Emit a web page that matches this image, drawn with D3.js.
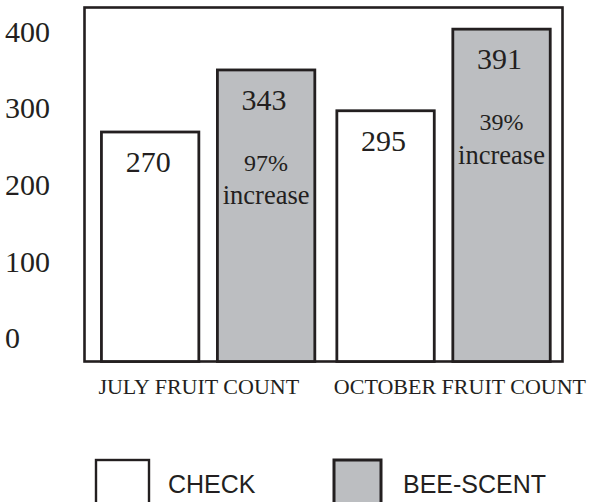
<!DOCTYPE html>
<html>
<head>
<meta charset="utf-8">
<script src="https://cdn.jsdelivr.net/npm/d3@7"></script>
<style>
  html, body { margin: 0; padding: 0; background: #ffffff; }
  svg { display: block; }
</style>
</head>
<body>
<svg id="chart" width="592" height="502"></svg>
<script>
// ---- data ----
const categories = ["JULY FRUIT COUNT", "OCTOBER FRUIT COUNT"];
const seriesNames = ["CHECK", "BEE-SCENT"];
const checkValues = [270, 295];
const beeScentValues = [343, 391];
const increaseLabels = ["97%", "39%"];
const yTickValues = [0, 100, 200, 300, 400];

// ---- layout ----
const frame = { left: 84.5, top: 7.5, right: 562.5, bottom: 361.5 };
const ink = "#231f20";
const grayFill = "#bcbec1";
const serif = "'Liberation Serif', 'Times New Roman', Times, serif";
const sans = "'Liberation Sans', Arial, Helvetica, sans-serif";

const svg = d3.select("#chart");

const rows = categories.map((c, i) => ({
  category: c,
  bars: [
    { series: seriesNames[0], value: checkValues[i], label: null },
    { series: seriesNames[1], value: beeScentValues[i], label: increaseLabels[i] }
  ]
}));

const x0 = d3.scaleBand()
  .domain(categories)
  .range([frame.left, frame.right])
  .paddingInner(0.0936)
  .paddingOuter(0.062)
  .align(0.58);

const x1 = d3.scaleBand()
  .domain(seriesNames)
  .range([0, x0.bandwidth()])
  .paddingInner(0.16)
  .paddingOuter(0);

const y = d3.scaleLinear().domain([0, 400]).range([frame.bottom, 21.5]);
// tick labels in the original sit on their own ladder, offset from the bars
const yLabel = d3.scaleLinear().domain([0, 400]).range([348.3, 41.7]);

const fill = d3.scaleOrdinal().domain(seriesNames).range(["#ffffff", grayFill]);

// frame
svg.append("rect")
  .attr("x", frame.left).attr("y", frame.top)
  .attr("width", frame.right - frame.left)
  .attr("height", frame.bottom - frame.top)
  .attr("fill", "none")
  .attr("stroke", ink)
  .attr("stroke-width", 2.6);

// y tick labels
svg.append("g").selectAll("text")
  .data(yTickValues)
  .join("text")
  .attr("x", 5)
  .attr("y", d => yLabel(d))
  .attr("font-family", serif)
  .attr("font-size", 30)
  .attr("fill", ink)
  .text(d => d);

// bars
const groups = svg.append("g").selectAll("g")
  .data(rows)
  .join("g")
  .attr("transform", d => `translate(${x0(d.category)},0)`);

groups.selectAll("rect")
  .data(d => d.bars)
  .join("rect")
  .attr("x", d => x1(d.series))
  .attr("y", d => y(d.value))
  .attr("width", x1.bandwidth())
  .attr("height", d => y(0) - y(d.value))
  .attr("fill", d => fill(d.series))
  .attr("stroke", ink)
  .attr("stroke-width", 2.8);

// value labels
groups.selectAll("text.val")
  .data(d => d.bars)
  .join("text")
  .attr("class", "val")
  .attr("x", d => x1(d.series) + x1.bandwidth() / 2 - 2)
  .attr("y", d => y(d.value) + 40)
  .attr("text-anchor", "middle")
  .attr("font-family", serif)
  .attr("font-size", 30)
  .attr("fill", ink)
  .text(d => d.value);

// increase labels
const incBars = groups.selectAll("g.inc")
  .data(d => d.bars.filter(b => b.label))
  .join("g")
  .attr("class", "inc");

incBars.append("text")
  .attr("x", d => x1(d.series) + x1.bandwidth() / 2)
  .attr("y", d => y(d.value) + 101)
  .attr("text-anchor", "middle")
  .attr("font-family", serif)
  .attr("font-size", 24)
  .attr("fill", ink)
  .text(d => d.label);

incBars.append("text")
  .attr("x", d => x1(d.series) + x1.bandwidth() / 2)
  .attr("y", d => y(d.value) + 134.5)
  .attr("text-anchor", "middle")
  .attr("font-family", serif)
  .attr("font-size", 26.5)
  .attr("fill", ink)
  .text("increase");

// category labels
svg.append("g").selectAll("text")
  .data(categories)
  .join("text")
  .attr("x", d => x0(d) - 3)
  .attr("y", 394)
  .attr("font-family", serif)
  .attr("font-size", 22)
  .attr("fill", ink)
  .text(d => d);

// legend
const legendX = [96, 334];
const legend = svg.append("g").selectAll("g")
  .data(seriesNames)
  .join("g")
  .attr("transform", (d, i) => `translate(${legendX[i]},460)`);

legend.append("rect")
  .attr("x", 0).attr("y", 0)
  .attr("width", (d, i) => i === 0 ? 53 : 47)
  .attr("height", 48)
  .attr("fill", d => fill(d))
  .attr("stroke", ink)
  .attr("stroke-width", (d, i) => i === 0 ? 2.4 : 3);

legend.append("text")
  .attr("x", (d, i) => i === 0 ? 72 : 69)
  .attr("y", 33)
  .attr("font-family", sans)
  .attr("font-size", 25)
  .attr("fill", ink)
  .text(d => d);
</script>
</body>
</html>
